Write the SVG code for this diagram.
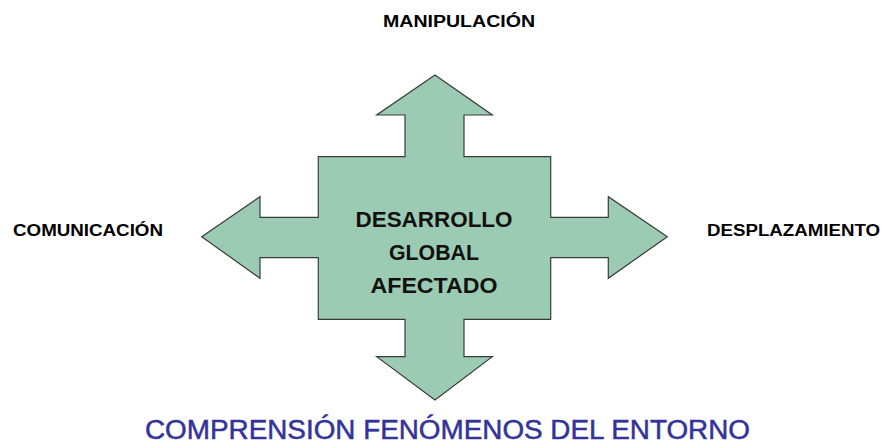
<svg xmlns="http://www.w3.org/2000/svg" width="885" height="445" viewBox="0 0 885 445">
<style>
.shape{fill:#9ccbb3;stroke:#3a3a3a;stroke-width:1.2;stroke-linejoin:miter}
.lbl{font-family:"Liberation Sans",Arial,sans-serif;font-weight:bold;font-size:16px;fill:#000}
.ctr{font-family:"Liberation Sans",Arial,sans-serif;font-weight:bold;font-size:22px;fill:#111;text-anchor:middle}
.ttl{font-family:"Liberation Sans",Arial,sans-serif;font-size:27px;fill:#333399;stroke:#333399;stroke-width:0.5}
</style>
<rect width="885" height="445" fill="#fff"/>
<g id="center">
<path class="shape" d="M435,75 L492.3,115 L464,115 L464,156.7 L550.7,156.7 L550.7,217.3 L608.3,217.3 L608.3,196.7 L667.3,236.7 L608.3,278.3 L608.3,257.7 L550.7,257.7 L550.7,319.3 L464,319.3 L464,356.7 L492.3,356.7 L435,400 L376.7,356.7 L405,356.7 L405,319.3 L318.3,319.3 L318.3,257.7 L260,257.7 L260,278.3 L201.7,236.7 L260,196.7 L260,217.3 L318.3,217.3 L318.3,156.7 L405,156.7 L405,115 L376.7,115 Z"/>
<text class="ctr" x="434" y="227" textLength="157" lengthAdjust="spacingAndGlyphs">DESARROLLO</text>
<text class="ctr" x="434" y="260" textLength="90" lengthAdjust="spacingAndGlyphs">GLOBAL</text>
<text class="ctr" x="434" y="293" textLength="127" lengthAdjust="spacingAndGlyphs">AFECTADO</text>
</g>
<g id="manipulacion"><text class="lbl" x="383" y="27" textLength="152" lengthAdjust="spacingAndGlyphs">MANIPULACIÓN</text></g>
<g id="comunicacion"><text class="lbl" x="13" y="236" textLength="150" lengthAdjust="spacingAndGlyphs">COMUNICACIÓN</text></g>
<g id="desplazamiento"><text class="lbl" x="707" y="236" textLength="173" lengthAdjust="spacingAndGlyphs">DESPLAZAMIENTO</text></g>
<g id="comprension"><text class="ttl" x="145" y="439" textLength="605" lengthAdjust="spacingAndGlyphs">COMPRENSIÓN FENÓMENOS DEL ENTORNO</text></g>
<g id="connectors"></g>
</svg>
